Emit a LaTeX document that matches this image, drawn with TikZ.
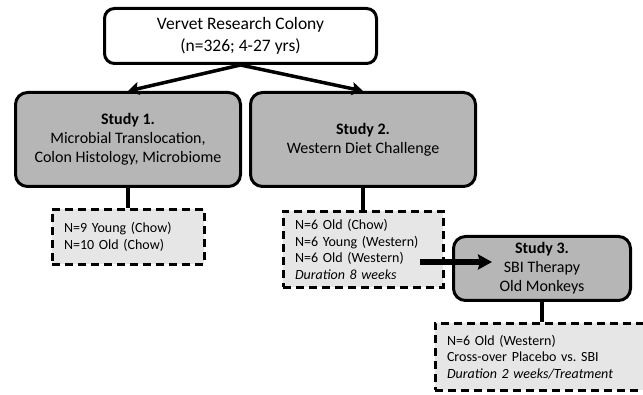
\documentclass[tikz,border=0pt]{standalone}
\usepackage{fontspec}
\setmainfont{Carlito}
\usetikzlibrary{arrows.meta,positioning}
\definecolor{studygray}{RGB}{182,182,182}
\definecolor{groupgray}{RGB}{230,230,230}
\frenchspacing

\begin{document}
\begin{tikzpicture}[x=1pt, y=-1pt,
	colonybox/.style={rectangle, draw, line width=3pt, rounded corners=10pt, fill=white, align=center, minimum width=272pt, minimum height=55pt, font=\fontsize{17.5}{22}\selectfont},
	studybox/.style={rectangle, draw, line width=3pt, rounded corners=12pt, fill=studygray, align=center, font=\fontsize{16}{19}\selectfont},
	groupbox/.style={rectangle, draw, line width=3pt, dash pattern=on 8pt off 5pt, fill=groupgray, align=left, inner xsep=12pt, font=\fontsize{14}{16.5}\selectfont},
	link/.style={line width=4pt},
	splitarrow/.style={line width=3.5pt, -{Stealth[length=11pt, width=13pt, inset=2pt]}},
	bigarrow/.style={line width=5.5pt, -{Stealth[length=14pt, width=15pt, inset=2pt]}}]
				\useasboundingbox (0,0) rectangle (643,395);
				\node[colonybox] (colony) at (240.5,36) {Vervet Research Colony\\(n=326; 4-27 yrs)};
				\node[studybox, minimum width=225pt, minimum height=94pt] (study1) at (128,139.5) {\textbf{Study 1.}\\Microbial Translocation,\\Colon Histology, Microbiome};
				\node[studybox, minimum width=225pt, minimum height=94pt] (study2) at (363,139.5) {\textbf{Study 2.}\\Western Diet Challenge};
				\node[studybox, minimum width=177pt, minimum height=64pt] (study3) at (542,268.5) {\textbf{Study 3.}\\SBI Therapy\\Old Monkeys};
				
				\draw[splitarrow] (colony.south) -- (study1.north);
				\draw[splitarrow] (colony.south) -- (study2.north);
				
				\node[groupbox, text width=128pt, minimum height=55pt, below=20pt of study1] (grp1) {N=9 Young (Chow)\\N=10 Old (Chow)};
				\node[groupbox, text width=136pt, minimum height=76pt, below=22pt of study2] (grp2) {N=6 Old (Chow)\\N=6 Young (Western)\\N=6 Old (Western)\\\textit{Duration 8 weeks}};
				\node[groupbox, text width=190pt, minimum height=67pt, below=20pt of study3] (grp3) {N=6 Old (Western)\\Cross-over Placebo vs. SBI\\\textit{Duration 2 weeks/Treatment}};
				\draw[link] (study1.south) -- (grp1.north);
				\draw[link] (study2.south) -- (grp2.north);
				\draw[link] (study3.south) -- (grp3.north);
				
				\draw[bigarrow, shorten <=-25pt, shorten >=-40pt] ([yshift=-12.5pt]grp2.east) -- ([yshift=-12.5pt]grp2.east -| study3.west);
			\end{tikzpicture}
\end{document}
